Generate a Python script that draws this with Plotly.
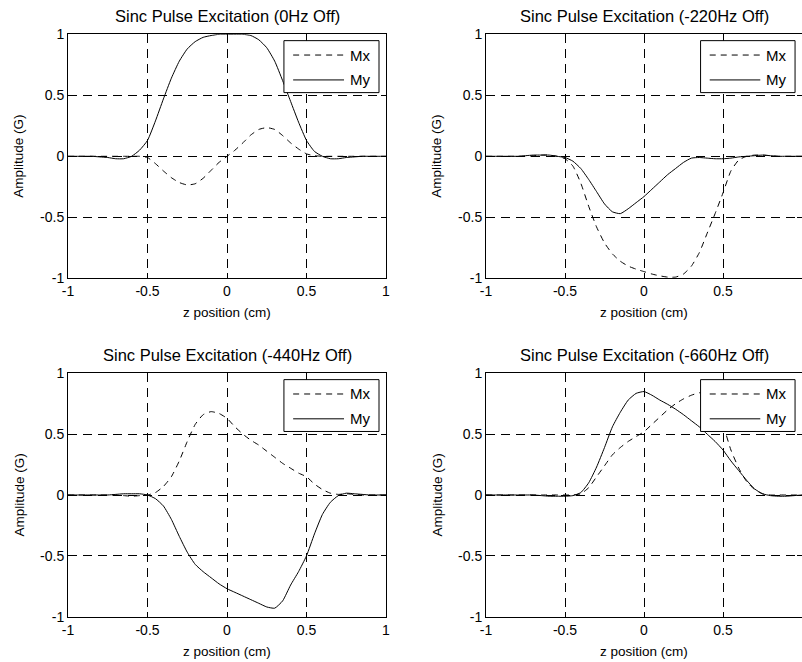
import plotly.graph_objects as go

# ---------------- data ----------------
z = [-1.0, -0.95, -0.9, -0.85, -0.8, -0.75, -0.7, -0.65, -0.6, -0.55,
     -0.5, -0.45, -0.4, -0.35, -0.3, -0.25, -0.2, -0.15, -0.1, -0.05,
     0.0, 0.05, 0.1, 0.15, 0.2, 0.25, 0.3, 0.35, 0.4, 0.45,
     0.5, 0.55, 0.6, 0.65, 0.7, 0.75, 0.8, 0.85, 0.9, 0.95, 1.0]

mx_0hz = [0, 0, 0, 0, 0, 0, 0, 0, 0, 0.0,
          -0.01, -0.06, -0.12, -0.175, -0.215, -0.235, -0.225, -0.18, -0.115, -0.05,
          0.0, 0.05, 0.11, 0.175, 0.22, 0.235, 0.22, 0.17, 0.11, 0.06,
          0.02, 0.005, 0, 0, 0, 0, 0, 0, 0, 0, 0]
my_0hz = [0, 0, 0, 0, -0.005, -0.01, -0.02, -0.02, 0.0, 0.05,
          0.13, 0.29, 0.47, 0.64, 0.78, 0.88, 0.94, 0.975, 0.99, 1.0,
          1.0, 1.0, 1.0, 0.99, 0.955, 0.89, 0.78, 0.62, 0.45, 0.28,
          0.13, 0.04, 0.0, -0.02, -0.02, -0.01, -0.005, 0, 0, 0, 0]

mx_220hz = [0, 0, 0, 0, 0, 0, 0.005, 0.01, 0.01, 0.0,
            -0.02, -0.08, -0.22, -0.41, -0.58, -0.71, -0.8, -0.86, -0.9, -0.925,
            -0.945, -0.965, -0.98, -0.99, -0.99, -0.965, -0.9, -0.79, -0.63, -0.47,
            -0.3, -0.12, -0.03, 0.0, 0.01, 0.01, 0.005, 0, 0, 0, 0]
my_220hz = [0, 0, 0, 0, 0.0, 0.005, 0.01, 0.01, 0.01, 0.0,
            -0.01, -0.04, -0.1, -0.19, -0.29, -0.39, -0.455, -0.47, -0.43, -0.38,
            -0.33, -0.27, -0.21, -0.15, -0.1, -0.05, -0.015, -0.01, -0.015, -0.02,
            -0.02, -0.015, -0.005, 0.0, 0.005, 0.01, 0.005, 0, 0, 0, 0]

mx_440hz = [0, 0, 0, 0, 0, 0, 0.0, -0.005, -0.01, -0.005,
            0.0, 0.02, 0.07, 0.15, 0.28, 0.44, 0.58, 0.66, 0.685, 0.67,
            0.63, 0.56, 0.5, 0.45, 0.41, 0.36, 0.31, 0.26, 0.22, 0.18,
            0.15, 0.09, 0.045, 0.015, 0.005, 0.01, 0.005, 0, 0, 0, 0]
my_440hz = [0, 0, 0, 0, 0, 0, 0.005, 0.01, 0.01, 0.01,
            0.0, -0.03, -0.09, -0.2, -0.34, -0.47, -0.57, -0.63, -0.68, -0.73,
            -0.77, -0.8, -0.83, -0.86, -0.89, -0.92, -0.93, -0.87, -0.74, -0.63,
            -0.5, -0.32, -0.16, -0.06, -0.005, 0.015, 0.01, 0.005, 0, 0, 0]

mx_660hz = [0, 0, 0, 0, 0, 0, 0, 0, 0, 0,
            0, 0.0, 0.01, 0.06, 0.15, 0.24, 0.33, 0.39, 0.44, 0.48,
            0.52, 0.58, 0.64, 0.7, 0.75, 0.79, 0.82, 0.84, 0.83, 0.76,
            0.58, 0.37, 0.22, 0.11, 0.045, 0.01, 0.0, 0, 0, 0, 0]
my_660hz = [0, 0, 0, 0, 0, 0, 0, -0.005, -0.01, -0.01,
            -0.01, -0.005, 0.02, 0.1, 0.23, 0.39, 0.56, 0.68, 0.78, 0.835,
            0.85, 0.82, 0.78, 0.745, 0.705, 0.66, 0.61, 0.56, 0.5, 0.44,
            0.37, 0.28, 0.2, 0.12, 0.05, 0.01, -0.005, -0.01, -0.01, -0.005, 0]

titles = ["Sinc Pulse Excitation (0Hz Off)", "Sinc Pulse Excitation (-220Hz Off)",
          "Sinc Pulse Excitation (-440Hz Off)", "Sinc Pulse Excitation (-660Hz Off)"]
series_names = ["Mx", "My"]
tick_vals = [-1, -0.5, 0, 0.5, 1]
tick_text = ["-1", "-0.5", "0", "0.5", "1"]
x_label = "z position (cm)"
y_label = "Amplitude (G)"

panels = [(mx_0hz, my_0hz), (mx_220hz, my_220hz), (mx_440hz, my_440hz), (mx_660hz, my_660hz)]

# ---------------- layout geometry (pixels) ----------------
W, H = 802, 662
FONT = "Liberation Sans, Arial, sans-serif"
boxes = [  # (left, right, top, bottom) in px
    (68, 386, 34.3, 278.3),
    (486, 802, 34.3, 278.3),
    (68, 386, 373.3, 616.7),
    (486, 802, 373.3, 616.7),
]

def px_x(p):
    return p / W

def px_y(p):
    return 1 - p / H

GRID_DASH = "9px,6px"
CURVE_DASH = "6px,5px"

fig = go.Figure()
layout = dict(
    width=W, height=H,
    margin=dict(l=0, r=0, t=0, b=0, autoexpand=False),
    paper_bgcolor="white", plot_bgcolor="white",
    showlegend=False,
    font=dict(family=FONT, color="black"),
)
annotations = []
shapes = []

for i, ((mx, my), title, (l, r, t, b)) in enumerate(zip(panels, titles, boxes)):
    s = "" if i == 0 else str(i + 1)
    xa, ya = "x" + s, "y" + s
    fig.add_trace(go.Scatter(x=z, y=mx, mode="lines", name=series_names[0],
                             line=dict(color="black", width=1, dash=CURVE_DASH, shape="spline", smoothing=0.5),
                             xaxis=xa, yaxis=ya))
    fig.add_trace(go.Scatter(x=z, y=my, mode="lines", name=series_names[1],
                             line=dict(color="black", width=1, shape="spline", smoothing=0.5),
                             xaxis=xa, yaxis=ya))
    axis_common = dict(
        range=[-1, 1], tickvals=tick_vals, ticktext=tick_text,
        showline=True, linecolor="black", linewidth=1, mirror="ticks",
        ticks="inside", ticklen=5, tickcolor="black", tickwidth=1,
        showgrid=True, gridcolor="black", gridwidth=1, griddash=GRID_DASH,
        zeroline=False, tickfont=dict(family=FONT, size=14, color="black"),
        fixedrange=True, automargin=False,
    )
    layout["xaxis" + s] = dict(axis_common, domain=[px_x(l), px_x(r)], anchor=ya)
    layout["yaxis" + s] = dict(axis_common, domain=[px_y(b), px_y(t)], anchor=xa)

    # title
    annotations.append(dict(text=title, xref=xa + " domain", x=0.5, yref="paper", y=px_y(t - 18.6),
                            xanchor="center", yanchor="middle", showarrow=False,
                            font=dict(family=FONT, size=16.5, color="black")))
    # axis labels
    annotations.append(dict(text=x_label, xref=xa + " domain", x=0.5, yref="paper", y=px_y(b + 34.5),
                            xanchor="center", yanchor="middle", showarrow=False,
                            font=dict(family=FONT, size=13.5, color="black")))
    annotations.append(dict(text=y_label, xref="paper", x=px_x(l - 49.5), yref=ya + " domain", y=0.5,
                            xanchor="center", yanchor="middle", textangle=-90, showarrow=False,
                            font=dict(family=FONT, size=13.5, color="black")))
    # legend box
    shapes.append(dict(type="rect", xref=xa + " domain", yref=ya + " domain",
                       x0=0.679, x1=0.978, y0=0.761, y1=0.974,
                       fillcolor="white", line=dict(color="black", width=1), layer="above"))
    shapes.append(dict(type="line", xref=xa + " domain", yref=ya + " domain",
                       x0=0.708, x1=0.868, y0=0.915, y1=0.915,
                       line=dict(color="black", width=1, dash=CURVE_DASH), layer="above"))
    shapes.append(dict(type="line", xref=xa + " domain", yref=ya + " domain",
                       x0=0.708, x1=0.868, y0=0.813, y1=0.813,
                       line=dict(color="black", width=1), layer="above"))
    for name, yy in zip(series_names, [0.915, 0.813]):
        annotations.append(dict(text=name, xref=xa + " domain", x=0.955, yref=ya + " domain", y=yy,
                                xanchor="right", yanchor="middle", showarrow=False,
                                font=dict(family=FONT, size=15, color="black")))

layout["annotations"] = annotations
layout["shapes"] = shapes
fig.update_layout(**layout)
fig.write_html("out.html")
